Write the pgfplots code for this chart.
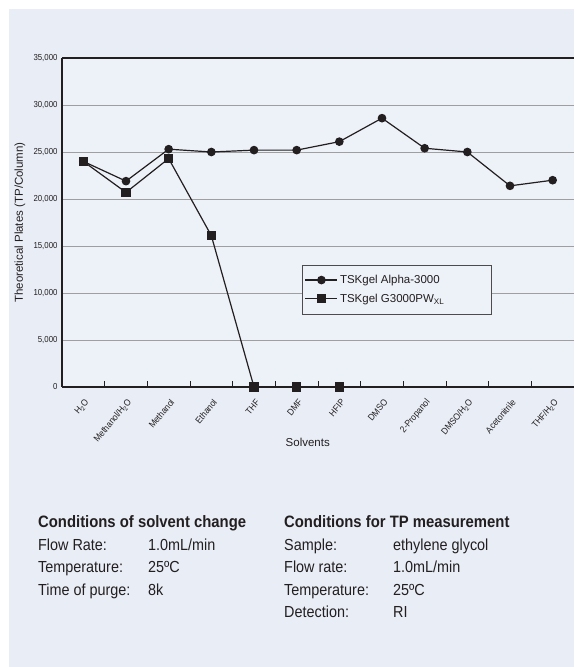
\documentclass[border=0pt]{standalone}
\usepackage{pgfplots}
\pgfplotsset{compat=1.18}
\usepackage{fontspec}
\setmainfont{Liberation Sans}
\newfontfamily\narrowfont[FakeStretch=0.9]{Liberation Sans}
\definecolor{bg}{HTML}{E8EDF6}
\definecolor{plotbg}{HTML}{EDF1F8}
\definecolor{ink}{HTML}{231F20}
\begin{document}
\begin{tikzpicture}[x=1pt,y=1pt]
\path[use as bounding box] (0pt,0pt) rectangle (574pt,667pt);
\fill[white] (0pt,0pt) rectangle (574pt,667pt);
\fill[bg] (9pt,0pt) rectangle (574pt,658pt);
\begin{axis}[
  at={(62pt,280pt)}, anchor=south west, scale only axis,
  width=512pt, height=329pt,
  xmin=-0.5, xmax=11.5, ymin=0, ymax=35000,
  axis lines=left, axis line style={-, line width=1.3pt, ink},
  axis background/.style={fill=plotbg},
  clip=false,
  tick align=inside,
  scaled y ticks=false,
  xtick={0,...,11},
  xticklabels={H\textsubscript{2}O, Methanol/H\textsubscript{2}O, Methanol, Ethanol, THF, DMF, HFIP, DMSO, 2-Propanol, DMSO/H\textsubscript{2}O, Acetonitrile, THF/H\textsubscript{2}O},
  minor xtick={0.5,1.5,...,10.5},
  major tick length=0pt, minor tick length=6pt,
  minor tick style={line width=1pt, ink},
  ytick={0,5000,...,35000},
  ymajorgrids, major grid style={gray!75, line width=0.6pt},
  /pgf/number format/.cd, 1000 sep={,}, assume math mode=true,
  /pgfplots/.cd,
  yticklabel style={font=\narrowfont\fontsize{8.7}{10}\selectfont, text=ink, xshift=-1pt},
  xticklabel style={font=\narrowfont\fontsize{9.2}{10}\selectfont, text=ink, xshift=6pt, yshift=-11pt, rotate=50, anchor=east},
  ylabel={Theoretical Plates (TP/Column)},
  ylabel style={at={(axis description cs:-0.082,0.5)}, anchor=center, font=\fontsize{11.5}{13}\selectfont, text=ink},
  xlabel={Solvents},
  xlabel style={at={(axis description cs:0.48,-0.167)}, anchor=center, font=\fontsize{11.5}{13}\selectfont, text=ink},
  legend style={at={(axis description cs:0.468,0.371)}, anchor=north west, draw=gray!60!black, fill=plotbg, font=\fontsize{11.5}{13}\selectfont, text=ink, row sep=5pt, inner ysep=8pt},
  legend cell align=left,
  legend image code/.code={\draw[mark repeat=2,mark phase=2] plot coordinates {(0pt,0pt)(16pt,0pt)(32pt,0pt)};},
]
\addplot[ink, line width=1.2pt, mark=*, mark size=3.7pt, mark options={fill=ink, solid}]
  coordinates {(0,24000)(1,21900)(2,25300)(3,25000)(4,25200)(5,25200)(6,26100)(7,28600)(8,25400)(9,25000)(10,21400)(11,22000)};
\addlegendentry{\makebox[146pt][l]{TSKgel Alpha-3000}}
\addplot[ink, line width=1.2pt, mark=square*, mark size=4pt, mark options={fill=ink, solid}]
  coordinates {(0,24000)(1,20700)(2,24300)(3,16100)(4,0)(5,0)(6,0)};
\addlegendentry{\makebox[146pt][l]{TSKgel G3000PW\textsubscript{XL}}}
\draw[ink, line width=1.3pt] (rel axis cs:0,1) -- (rel axis cs:1,1);
\end{axis}
\begin{scope}[every node/.style={anchor=base west, inner sep=0pt, text=ink, font=\narrowfont\fontsize{16}{18}\selectfont}]
\node[font=\narrowfont\bfseries\fontsize{16.5}{18}\selectfont] at (38pt,139pt) {Conditions of solvent change};
\node at (38pt,116.5pt) {Flow Rate:};      \node at (148pt,116.5pt) {1.0mL/min};
\node at (38pt,94pt) {Temperature:};       \node at (148pt,94pt) {25ºC};
\node at (38pt,71.5pt) {Time of purge:};   \node at (148pt,71.5pt) {8k};
\node[font=\narrowfont\bfseries\fontsize{16.5}{18}\selectfont] at (284pt,139pt) {Conditions for TP measurement};
\node at (284pt,116.5pt) {Sample:};        \node at (393pt,116.5pt) {ethylene glycol};
\node at (284pt,94pt) {Flow rate:};        \node at (393pt,94pt) {1.0mL/min};
\node at (284pt,71.5pt) {Temperature:};    \node at (393pt,71.5pt) {25ºC};
\node at (284pt,49pt) {Detection:};        \node at (393pt,49pt) {RI};
\end{scope}
\end{tikzpicture}
\end{document}
